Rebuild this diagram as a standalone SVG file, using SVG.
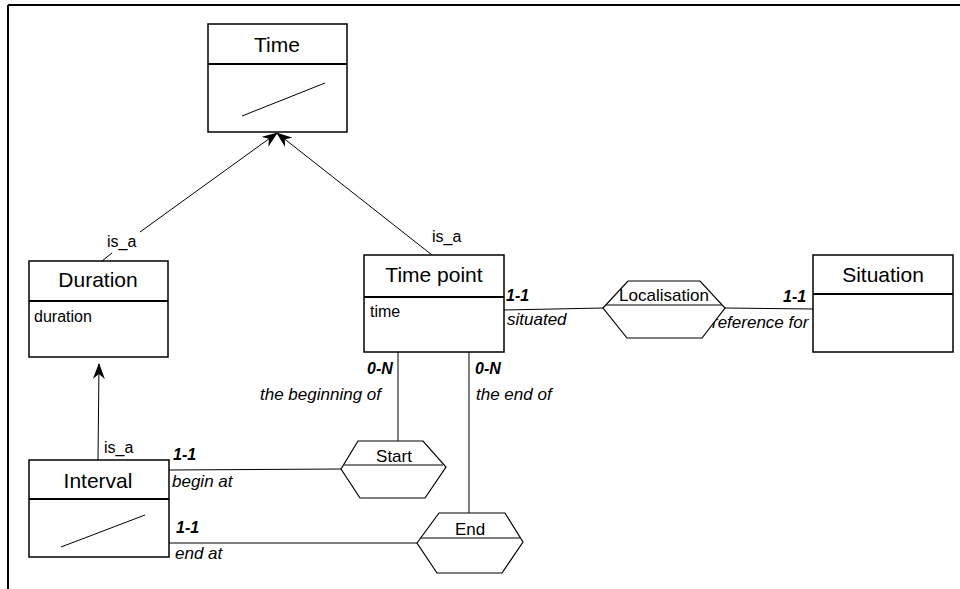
<svg xmlns="http://www.w3.org/2000/svg" width="960" height="589" viewBox="0 0 960 589">
<defs>
<marker id="arr" viewBox="0 0 16 12" refX="15" refY="6" markerWidth="16" markerHeight="12" markerUnits="userSpaceOnUse" orient="auto">
<path d="M0,0 L16,6 L0,12 L5,6 z" fill="#000"/>
</marker>
<style>
.box{fill:#fff;stroke:#000;stroke-width:1.5}
.div{stroke:#000;stroke-width:2;fill:none}
.ln{stroke:#000;stroke-width:1;fill:none}
.hex{fill:#fff;stroke:#000;stroke-width:1.2}
.title{font-family:"Liberation Sans",Arial,sans-serif;font-size:21px;text-anchor:middle;fill:#000}
.attr{font-family:"Liberation Sans",Arial,sans-serif;font-size:16px;fill:#000}
.rel{font-family:"Liberation Sans",Arial,sans-serif;font-size:17px;text-anchor:middle;fill:#000}
.role{font-family:"Liberation Sans",Arial,sans-serif;font-size:17px;font-style:italic;fill:#000}
.card{font-family:"Liberation Sans",Arial,sans-serif;font-size:16px;font-style:italic;font-weight:bold;fill:#000}
.isa{font-family:"Liberation Sans",Arial,sans-serif;font-size:16px;fill:#000}
</style>
</defs>
<rect width="960" height="589" fill="#fff"/>
<g id="frame">
<line x1="8" y1="5" x2="960" y2="5" stroke="#000" stroke-width="2"/>
<line x1="8" y1="5" x2="8" y2="589" stroke="#000" stroke-width="2"/>
</g>
<g id="connectors">
<line class="ln" x1="102" y1="261" x2="112" y2="253"/>
<line class="ln" x1="140" y1="232" x2="277" y2="133" marker-end="url(#arr)"/>
<line class="ln" x1="432" y1="255" x2="277" y2="133" marker-end="url(#arr)"/>
<line class="ln" x1="98" y1="460" x2="99" y2="364" marker-end="url(#arr)" stroke-width="0.8"/>
<line class="ln" x1="504" y1="310" x2="603" y2="308"/>
<line class="ln" x1="725" y1="308" x2="813" y2="309"/>
<line class="ln" x1="398" y1="352" x2="398" y2="441" stroke-width="0.8"/>
<line class="ln" x1="469" y1="352" x2="469" y2="513"/>
<line class="ln" x1="169" y1="470" x2="341" y2="469"/>
<line class="ln" x1="169" y1="543" x2="417" y2="543"/>
<text class="isa" x="107" y="247">is_a</text>
<text class="isa" x="432" y="242">is_a</text>
<text class="isa" x="104" y="453">is_a</text>
<text class="card" x="506" y="301">1-1</text>
<text class="role" x="507" y="325">situated</text>
<text class="card" x="783" y="302">1-1</text>
<text class="role" x="712" y="328">reference for</text>
<text class="card" x="367" y="374">0-N</text>
<text class="role" x="260" y="400">the beginning of</text>
<text class="card" x="475" y="374">0-N</text>
<text class="role" x="476" y="400">the end of</text>
<text class="card" x="173" y="460">1-1</text>
<text class="role" x="172" y="487">begin at</text>
<text class="card" x="176" y="533">1-1</text>
<text class="role" x="175" y="559">end at</text>
</g>
<g id="time">
<rect class="box" x="208" y="24" width="139" height="108"/>
<line class="div" x1="208" y1="64" x2="347" y2="64"/>
<text class="title" x="277" y="52">Time</text>
<line class="ln" x1="242" y1="116" x2="325" y2="83"/>
</g>
<g id="duration">
<rect class="box" x="29" y="261" width="139" height="96"/>
<line class="div" x1="29" y1="301" x2="168" y2="301"/>
<text class="title" x="98" y="287">Duration</text>
<text class="attr" x="34" y="322">duration</text>
</g>
<g id="timepoint">
<rect class="box" x="364" y="255" width="140" height="97"/>
<line class="div" x1="364" y1="297" x2="504" y2="297"/>
<text class="title" x="434" y="282">Time point</text>
<text class="attr" x="370" y="317">time</text>
</g>
<g id="situation">
<rect class="box" x="813" y="255" width="140" height="97"/>
<line class="div" x1="813" y1="294" x2="953" y2="294"/>
<text class="title" x="883" y="282">Situation</text>
</g>
<g id="interval">
<rect class="box" x="29" y="460" width="140" height="97"/>
<line class="div" x1="29" y1="499" x2="169" y2="499"/>
<text class="title" x="98" y="488">Interval</text>
<line class="ln" x1="61" y1="547" x2="145" y2="515"/>
</g>
<g id="localisation">
<polygon class="hex" points="603,308 628,281 700,281 725,308 702,338 627,338"/>
<line class="ln" x1="606" y1="305" x2="722" y2="305"/>
<text class="rel" x="664" y="301">Localisation</text>
</g>
<g id="start">
<polygon class="hex" points="341,469 358,441 423,441 446,467 425,498 360,498"/>
<line class="ln" x1="344" y1="465" x2="443" y2="465"/>
<text class="rel" x="394" y="462">Start</text>
</g>
<g id="end">
<polygon class="hex" points="417,543 439,513 505,513 523,542 502,573 437,573"/>
<line class="ln" x1="420" y1="538" x2="520" y2="538"/>
<text class="rel" x="470" y="535">End</text>
</g>
</svg>
